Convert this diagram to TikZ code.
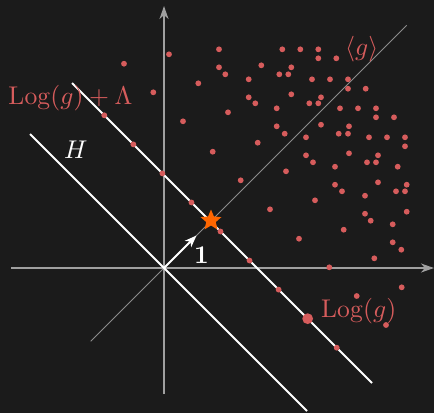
\documentclass[tikz,border=0pt]{standalone}
\usepackage{graphicx}
\usetikzlibrary{arrows.meta,shapes.geometric}
\definecolor{bg}{HTML}{1B1B1B}
\definecolor{dotred}{HTML}{D65C5C}
\definecolor{axisgray}{HTML}{A0A0A0}
\definecolor{diaggray}{HTML}{8C8C8C}
\definecolor{starorange}{HTML}{FF6600}
\newcommand{\bigtxt}[1]{\scalebox{2.57}{#1}}
\begin{document}
\begin{tikzpicture}[x=1bp,y=-1bp,
  axis/.style={draw=axisgray, line width=1.6bp, -{Stealth[length=13bp,width=9bp,inset=4bp]}},
  wline/.style={draw=white, line width=1.8bp},
  diag/.style={draw=diaggray, line width=0.9bp},
  pt/.style={circle, fill=dotred, inner sep=0, minimum size=5.8bp},
  bigpt/.style={circle, fill=dotred, inner sep=0, minimum size=10.8bp},
  bigfont/.style={inner sep=0},
  lbl/.style={bigfont, text=dotred},
  wlbl/.style={bigfont, text=white},
  unitarrow/.style={draw=white, line width=1.8bp, -{Stealth[length=12bp,width=9bp,inset=3.5bp]}}
]
\fill[bg] (0,0) rectangle (434,413);
\useasboundingbox (0,0) rectangle (434,413);

% coordinates
\coordinate (O) at (164,268);
\coordinate (vaxB) at (164,394);
\coordinate (vaxT) at (164,6);
\coordinate (haxL) at (11,268);
\coordinate (haxR) at (434,268);
\coordinate (diagA) at (90.7,341.3);
\coordinate (diagB) at (406.7,25.3);
\coordinate (hA) at (30,134);
\coordinate (hB) at (307,411);
\coordinate (lA) at (72,83);
\coordinate (lB) at (372,383);
\coordinate (u1) at (196.5,235.5);

% axes and lines
\draw[axis] (vaxB) -- (vaxT);
\draw[axis] (haxL) -- (haxR);
\draw[diag] (diagA) -- (diagB);
\draw[wline] (hA) -- (hB);
\draw[wline] (lA) -- (lB);
\draw[unitarrow] (O) -- (u1);

% scattered points of <g>
\foreach \x/\y [count=\i] in {
169/54.3, 219/49.3, 282.3/49.3, 300.3/49.3, 318.3/49.3, 318.3/58.3, 336.3/58.3,
219/67.3, 225.3/74.3, 261.3/65.3, 291.3/67.3, 279.3/74.3, 288.3/74.3,
153.3/92.3, 198.3/83.3, 248.7/79.3, 312/79.3, 330/79.3, 348/79.3, 348/88.7, 365.7/88.7,
248.7/97.3, 255.3/103.3, 291.3/94.3, 309.3/103.3, 318.3/103.3, 321/97.3,
276.7/108.3, 340/108.3, 358/108.3, 376/108.3, 376/117.3, 394/117.3,
228/112.3, 183/121.3, 276.7/126.3, 284.7/133.7, 321/124.7, 349/126.3,
338.7/133.7, 348/133.7, 306/137.3, 369/137.3, 387/137.3, 405/137.3, 405/146.3,
257.7/142.7, 212.7/151.7, 306/155.3, 313/162.3, 349/153.3, 378/155.3,
367/162.3, 376/162.3, 335/166.7, 397.7/166.7, 286/171.3, 240.7/180.3,
335/184.7, 342/191.3, 378/182.3, 406.7/184.7, 396/191.3, 405/191.3,
365/195.7, 315/200.3, 270/209.3, 406.7/211.7, 365/213.7, 370.7/220.7,
392.7/224.3, 343.7/229.7, 299/238.7, 392.7/242.3, 401.3/249.7, 374.3/258.3,
329.3/267.3, 124/63.7, 356.7/296, 401.7/287.3, 386/325}
  \node[pt] (d\i) at (\x,\y) {};

% lattice points on Log(g)+Lambda
\foreach \k in {0,...,6,8}
  \node[pt] (l\k) at ({104.3+29.05*\k},{115.3+29.05*\k}) {};
\node[bigpt] (l7) at ({104.3+29.05*7},{115.3+29.05*7}) {};

% star
\node[star, star points=5, star point ratio=2.2, fill=starorange, inner sep=0, minimum size=22bp] (st) at (211,220.5) {};

% labels
\node[lbl, anchor=base west] (lbllam) at (8.3,104.3) {\bigtxt{$\mathrm{Log}(g)+\Lambda$}};
\node[wlbl, anchor=base west] (lblH) at (64,158.7) {\bigtxt{$H$}};
\node[wlbl, anchor=base west] (lblone) at (194,263.3) {\bigtxt{$\mathbf{1}$}};
\node[lbl, anchor=west] (lblg) at (345,49) {\bigtxt{$\langle g\rangle$}};
\node[lbl, anchor=base west] (lbllog) at (321,317.7) {\bigtxt{$\mathrm{Log}(g)$}};
\end{tikzpicture}
\end{document}
